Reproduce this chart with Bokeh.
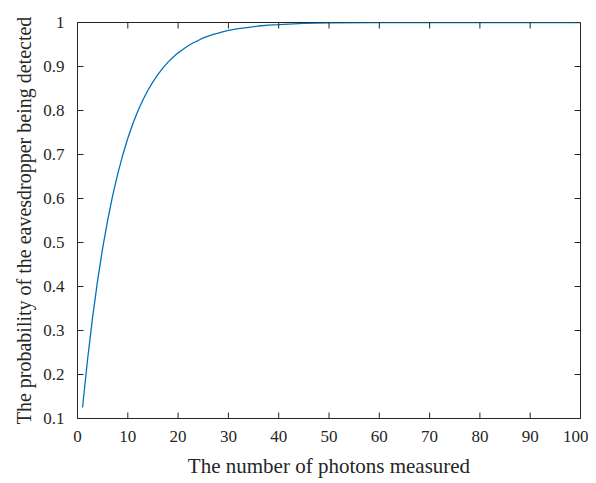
import math
from bokeh.plotting import figure
from bokeh.models import FixedTicker, Range1d, AllLabels
from bokeh.embed import file_html
from bokeh.resources import INLINE

# data
photons = [1, 2, 3, 4, 5, 6, 7, 8, 9, 10, 11, 12, 13, 14, 15, 16, 17, 18, 19, 20,
           21, 22, 23, 24, 25, 26, 27, 28, 29, 30, 32, 34, 36, 38, 40, 45, 50,
           60, 70, 80, 90, 100]
prob = [0.125, 0.234, 0.330, 0.414, 0.487, 0.551, 0.607, 0.656, 0.699, 0.737,
        0.770, 0.799, 0.824, 0.846, 0.865, 0.882, 0.897, 0.910, 0.921, 0.931,
        0.939, 0.947, 0.954, 0.959, 0.965, 0.969, 0.973, 0.976, 0.979, 0.982,
        0.986, 0.989, 0.992, 0.994, 0.995, 0.998, 0.999,
        1.000, 1.000, 1.000, 1.000, 1.000]
x_ticks = [0, 10, 20, 30, 40, 50, 60, 70, 80, 90, 100]
x_tick_labels = ["0", "10", "20", "30", "40", "50", "60", "70", "80", "90", "100"]
y_ticks = [0.1, 0.2, 0.3, 0.4, 0.5, 0.6, 0.7, 0.8, 0.9, 1.0]
y_tick_labels = ["0.1", "0.2", "0.3", "0.4", "0.5", "0.6", "0.7", "0.8", "0.9", "1"]
x_label = "The number of photons measured"
y_label = "The probability of the eavesdropper being detected"

FONT = "Liberation Serif"
AX = "#262626"

p = figure(frame_width=503, frame_height=396,
           min_border_left=77, min_border_right=8, min_border_top=22, min_border_bottom=60,
           x_range=Range1d(x_ticks[0], x_ticks[-1]), y_range=Range1d(y_ticks[0], y_ticks[-1]),
           output_backend="svg", toolbar_location=None)
p.grid.grid_line_color = None
p.outline_line_color = AX
p.outline_line_width = 1

p.line(photons, prob, line_color="#0072BD", line_width=1.3)

# inward tick marks on all four sides, placed at the tick values
nx, ny = len(x_ticks), len(y_ticks)
p.ray(x=x_ticks, y=[y_ticks[0]] * nx, length=6, length_units="screen",
      angle=math.pi / 2, line_color=AX, line_width=1)
p.ray(x=x_ticks, y=[y_ticks[-1]] * nx, length=6, length_units="screen",
      angle=-math.pi / 2, line_color=AX, line_width=1)
p.ray(x=[x_ticks[0]] * ny, y=y_ticks, length=6, length_units="screen",
      angle=0, line_color=AX, line_width=1)
p.ray(x=[x_ticks[-1]] * ny, y=y_ticks, length=6, length_units="screen",
      angle=math.pi, line_color=AX, line_width=1)

for ax in (p.xaxis[0], p.yaxis[0]):
    ax.axis_line_color = AX
    ax.major_tick_line_color = None
    ax.minor_tick_line_color = None
    ax.major_label_text_font = FONT
    ax.major_label_text_font_size = "17px"
    ax.major_label_text_color = AX
    ax.major_label_policy = AllLabels()
    ax.axis_label_text_font = FONT
    ax.axis_label_text_font_style = "normal"
    ax.axis_label_text_color = AX

p.xaxis.ticker = FixedTicker(ticks=x_ticks)
p.yaxis.ticker = FixedTicker(ticks=y_ticks)
p.xaxis.major_label_overrides = {t: l for t, l in zip(x_ticks, x_tick_labels)}
p.yaxis.major_label_overrides = {t: l for t, l in zip(y_ticks, y_tick_labels)}
p.xaxis.axis_label = x_label
p.yaxis.axis_label = y_label
p.xaxis.axis_label_text_font_size = "21px"
p.yaxis.axis_label_text_font_size = "20px"
p.xaxis.major_label_standoff = 6
p.yaxis.major_label_standoff = 7
p.xaxis.axis_label_standoff = 9
p.yaxis.axis_label_standoff = 5

open("out.html", "w").write(file_html(p, INLINE))
